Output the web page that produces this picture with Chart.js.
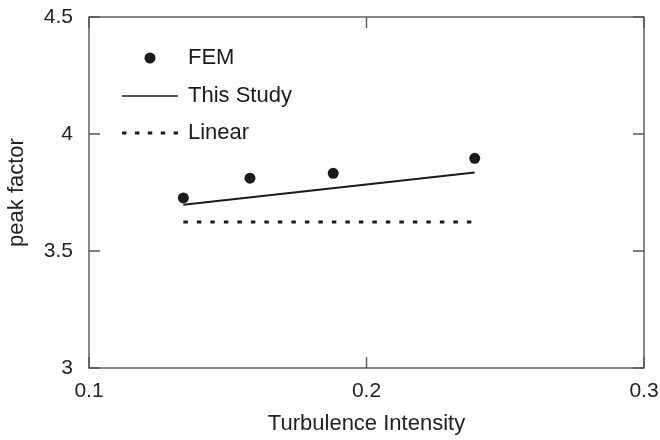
<!DOCTYPE html>
<html>
<head>
<meta charset="utf-8">
<script src="https://cdn.jsdelivr.net/npm/chart.js@4/dist/chart.umd.min.js"></script>
<style>
  html, body { margin: 0; padding: 0; background: #fff; }
  #wrap { width: 660px; height: 440px; }
</style>
</head>
<body>
<div id="wrap"><canvas id="peakChart"></canvas></div>
<script>
// Data
const femX = [0.134, 0.158, 0.188, 0.239];
const femY = [3.727, 3.811, 3.832, 3.896];
const studyX = [0.134, 0.239];
const studyY = [3.698, 3.835];
const linearX = [0.134, 0.2395];
const linearY = [3.624, 3.624];
const xTicks = [0.1, 0.2, 0.3];
const yTicks = [3, 3.5, 4, 4.5];

const ink = '#1a1a1a';
const frame = '#555';
const fam = '"Liberation Sans", Arial, sans-serif';
const tickFont = { family: fam, size: 21 };
const titleFont = { family: fam, size: 22 };

const pts = (xs, ys) => xs.map((x, i) => ({ x: x, y: ys[i] }));

// box, inward tick marks and the legend
const framePlugin = {
  id: 'frame',
  afterDraw(chart) {
    const ctx = chart.ctx, a = chart.chartArea;
    const xs = chart.scales.x, ys = chart.scales.y;
    const len = 11;
    ctx.save();
    ctx.strokeStyle = frame;
    ctx.lineWidth = 1.4;
    ctx.strokeRect(a.left, a.top, a.right - a.left, a.bottom - a.top);
    ctx.beginPath();
    xTicks.forEach(v => {
      const px = xs.getPixelForValue(v);
      ctx.moveTo(px, a.bottom); ctx.lineTo(px, a.bottom - len);
      ctx.moveTo(px, a.top); ctx.lineTo(px, a.top + len);
    });
    yTicks.forEach(v => {
      const py = ys.getPixelForValue(v);
      ctx.moveTo(a.left, py); ctx.lineTo(a.left + len, py);
      ctx.moveTo(a.right, py); ctx.lineTo(a.right - len, py);
    });
    ctx.stroke();

    // legend
    const ds = chart.data.datasets;
    ctx.font = titleFont.size + 'px ' + fam;
    ctx.fillStyle = ink;
    ctx.textBaseline = 'middle';
    ctx.textAlign = 'left';
    const tx = 188;
    ctx.beginPath();
    ctx.arc(150, 58, 5.5, 0, Math.PI * 2);
    ctx.fillStyle = ds[0].backgroundColor;
    ctx.fill();
    ctx.fillStyle = ink;
    ctx.fillText(ds[0].label, tx, 58);

    ctx.strokeStyle = ds[1].borderColor;
    ctx.lineWidth = 1.5;
    ctx.beginPath(); ctx.moveTo(122, 96); ctx.lineTo(178, 96); ctx.stroke();
    ctx.fillText(ds[1].label, tx, 96);

    ctx.strokeStyle = ds[2].borderColor;
    ctx.lineWidth = ds[2].borderWidth;
    ctx.setLineDash([4.5, 8.4]);
    ctx.beginPath(); ctx.moveTo(122, 133); ctx.lineTo(180, 133); ctx.stroke();
    ctx.setLineDash([]);
    ctx.fillText(ds[2].label, tx, 133);
    ctx.restore();
  }
};

const ctx = document.getElementById('peakChart').getContext('2d');
new Chart(ctx, {
  type: 'scatter',
  data: {
    datasets: [
      { label: 'FEM', data: pts(femX, femY), backgroundColor: ink, borderColor: ink,
        pointRadius: 5.5, borderWidth: 0, showLine: false },
      { label: 'This Study', data: pts(studyX, studyY), borderColor: ink, borderWidth: 2,
        pointRadius: 0, showLine: true },
      { label: 'Linear', data: pts(linearX, linearY), borderColor: ink, borderWidth: 3,
        borderDash: [4.5, 9.0], borderCapStyle: 'butt', pointRadius: 0, showLine: true }
    ]
  },
  options: {
    responsive: true,
    maintainAspectRatio: false,
    animation: false,
    layout: { padding: { left: 0, right: 16, top: 17, bottom: 0 } },
    plugins: { legend: { display: false }, tooltip: { enabled: false } },
    scales: {
      x: {
        type: 'linear', min: 0.1, max: 0.3,
        afterBuildTicks: s => { s.ticks = xTicks.map(v => ({ value: v })); },
        afterFit: s => { s.height = 72; s.paddingLeft = 0; s.paddingRight = 0; },
        grid: { display: false, drawTicks: false },
        border: { display: false },
        ticks: { color: '#222', font: tickFont, padding: 11, maxRotation: 0,
                 callback: v => String(v) },
        title: { display: true, text: 'Turbulence Intensity', color: '#222', font: titleFont,
                 padding: { top: 0, bottom: 3 } }
      },
      y: {
        type: 'linear', min: 3, max: 4.5,
        afterBuildTicks: s => { s.ticks = yTicks.map(v => ({ value: v })); },
        afterFit: s => { s.width = 89; s.paddingTop = 0; s.paddingBottom = 0; },
        grid: { display: false, drawTicks: false },
        border: { display: false },
        ticks: { color: '#222', font: tickFont, padding: 16, callback: v => String(v) },
        title: { display: true, text: 'peak factor', color: '#222', font: titleFont,
                 padding: { top: 4, bottom: 0 } }
      }
    }
  },
  plugins: [framePlugin]
});
</script>
</body>
</html>
